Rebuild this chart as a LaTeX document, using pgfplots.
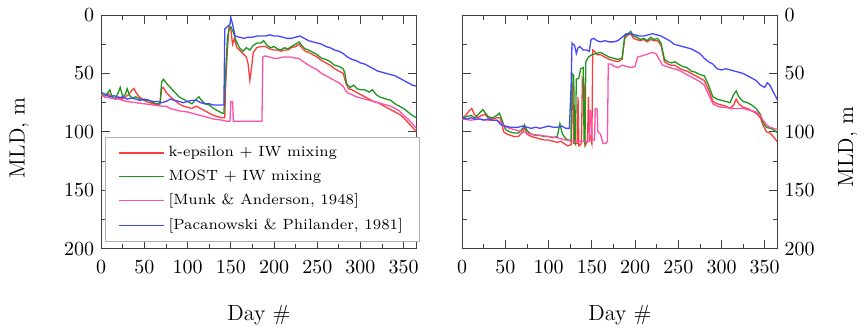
\documentclass[border=0pt]{standalone}
\usepackage{pgfplots}
\pgfplotsset{compat=1.18}
\definecolor{kred}{RGB}{255,60,60}
\definecolor{kgreen}{RGB}{30,150,30}
\definecolor{kpink}{RGB}{255,80,170}
\definecolor{kblue}{RGB}{70,70,255}
\pgfplotsset{
  mlda/.style={
    scale only axis, width=157.9pt, height=117pt,
    xmin=0, xmax=365, ymin=0, ymax=200, y dir=reverse,
    xtick={0,50,...,350}, ytick={0,50,...,200},
    minor x tick num=1, minor y tick num=1,
    tick align=inside, major tick length=4.5pt, minor tick length=2.5pt,
    axis line style={black!75}, every tick/.style={black!75},
    tick label style={font=\fontsize{10}{12}\selectfont},
    xticklabel style={yshift=-2.5pt},
    label style={font=\fontsize{11}{13}\selectfont},
    xlabel={Day \#},
    xlabel style={at={(axis description cs:0.5,-0.282)}, anchor=center},
    ylabel={MLD, m},
    every axis plot/.append style={line width=0.65pt},
  },
  legend image code/.code={\draw[#1] (0pt,0pt) -- (22.5pt,0pt);},
}
\begin{document}
\begin{tikzpicture}
\path (-50.65pt,-41.5pt) rectangle (381.35pt,124.5pt);
\begin{axis}[mlda, at={(0,0)}, anchor=south west,
  ylabel style={at={(axis description cs:-0.26,0.475)}, anchor=center},
  legend style={at={(axis description cs:0.0117,0.4786)}, anchor=north west,
    font=\fontsize{7.4}{9}\selectfont, draw=gray!60, inner xsep=6.5pt, inner ysep=2.5pt,
    row sep=1.2pt},
  legend cell align=left]
\addplot[kred] coordinates {(0,68)(4,70)(8,67)(12,70)(16,72)(20,70)(24,72)(28,70)(32,68)(36,64)(38,63)(40,66)(44,70)(48,72)(52,74)(56,75)(60,76)(65,77)(68,76)(70,63)(72,62)(75,66)(80,70)(85,73)(90,76)(95,78)(100,79)(105,80)(110,78)(115,80)(120,82)(125,84)(130,86)(135,87)(140,88)(143,88)(144,60)(146,30)(148,10)(150,12)(152,25)(154,20)(157,28)(160,30)(164,33)(168,36)(170,42)(172,56)(174,45)(176,32)(180,28)(185,27)(190,27)(195,29)(200,30)(204,30)(208,31)(212,30)(216,30)(220,28)(225,27)(229,25)(232,28)(236,31)(240,32)(245,34)(250,36)(255,39)(260,41)(265,43)(270,46)(275,48)(280,50)(283,58)(286,63)(290,64)(295,66)(300,68)(305,70)(310,72)(315,74)(320,75)(325,77)(330,79)(335,81)(340,83)(345,85)(350,88)(355,92)(360,96)(365,100)};
\addlegendentry{k-epsilon + IW mixing}
\addplot[kgreen] coordinates {(0,67)(4,70)(8,66)(10,64)(12,69)(16,72)(20,66)(22,62)(25,70)(28,68)(30,63)(33,69)(36,71)(40,70)(45,72)(50,73)(55,73)(60,75)(65,76)(68,76)(70,57)(72,55)(75,58)(80,62)(85,66)(90,70)(95,72)(100,74)(105,76)(110,72)(113,70)(116,73)(120,76)(125,77)(130,80)(135,82)(140,84)(142,84)(144,50)(146,20)(148,12)(150,10)(153,15)(156,22)(160,28)(164,31)(168,28)(172,30)(176,26)(180,24)(185,24)(188,22)(192,26)(196,28)(200,27)(204,29)(208,30)(212,28)(216,29)(220,27)(225,25)(229,23)(232,26)(236,29)(240,30)(245,32)(250,34)(255,37)(260,38)(265,40)(270,43)(275,44)(280,46)(282,50)(284,59)(288,62)(292,60)(296,63)(300,64)(305,64)(310,66)(314,64)(318,68)(322,70)(326,71)(330,72)(335,73)(340,76)(345,78)(350,80)(355,83)(360,86)(365,88)};
\addlegendentry{MOST + IW mixing}
\addplot[kpink] coordinates {(0,69)(10,71)(20,72)(30,74)(40,75)(50,76)(60,77)(70,78)(75,78)(80,80)(90,82)(100,83)(110,85)(120,87)(130,89)(140,90)(145,91)(149,91)(150,74)(152,74)(153,91)(160,91)(170,91)(180,91)(186,91)(187,36)(190,35)(195,36)(200,37)(205,37)(210,36)(215,36)(220,36)(225,37)(228,37)(232,39)(236,41)(240,43)(245,45)(250,47)(255,50)(260,52)(265,54)(270,56)(275,58)(280,61)(283,65)(286,67)(290,68)(295,70)(300,71)(305,72)(310,73)(315,74)(320,75)(325,76)(330,77)(335,78)(340,80)(345,82)(350,86)(355,89)(360,93)(365,97)};
\addlegendentry{[Munk \& Anderson, 1948]}
\addplot[kblue] coordinates {(0,66)(5,68)(10,70)(15,69)(20,71)(25,70)(30,72)(35,71)(40,72)(45,73)(50,72)(55,73)(60,74)(65,74)(70,75)(75,74)(80,72)(85,73)(90,74)(95,75)(100,74)(105,73)(110,73)(115,75)(120,76)(125,76)(130,77)(135,77)(140,77)(142,77)(143,12)(146,10)(149,8)(150,2)(152,8)(155,18)(160,19)(165,20)(170,19)(175,19)(180,18)(185,18)(190,18)(195,17)(200,18)(205,18)(210,19)(215,20)(220,20)(225,19)(230,18)(235,20)(240,22)(245,23)(250,24)(255,25)(260,27)(265,28)(270,30)(275,31)(280,33)(285,36)(290,38)(295,39)(300,41)(305,42)(310,44)(315,46)(320,48)(325,49)(330,50)(335,51)(340,52)(345,54)(350,56)(355,58)(360,60)(365,61)};
\addlegendentry{[Pacanowski \& Philander, 1981]}
\end{axis}
\begin{axis}[mlda, at={(180.7pt,0)}, anchor=south west,
  yticklabel pos=right,
  ylabel style={at={(axis description cs:1.222,0.436)}, anchor=center}]
\addplot[kred] coordinates {(0,88)(4,86)(8,82)(11,80)(14,85)(18,88)(22,86)(26,85)(30,88)(35,89)(40,88)(44,88)(48,100)(52,102)(56,103)(60,104)(65,104)(70,100)(72,96)(75,102)(80,104)(85,105)(90,106)(95,107)(100,107)(105,108)(110,109)(114,108)(118,110)(122,112)(126,111)(127,58)(128,62)(129,110)(133,110)(134,70)(135,112)(138,110)(139,55)(141,60)(142,112)(145,108)(146,70)(147,100)(150,110)(151,30)(153,31)(156,34)(160,34)(165,36)(170,38)(175,39)(180,40)(185,38)(188,20)(192,17)(195,16)(198,20)(202,21)(206,22)(210,21)(214,23)(218,21)(222,22)(226,22)(230,26)(234,40)(238,42)(242,43)(246,43)(250,45)(255,47)(260,48)(265,50)(270,52)(275,54)(280,56)(285,64)(290,74)(295,76)(300,77)(305,78)(310,80)(314,77)(317,72)(320,76)(325,79)(330,80)(335,82)(340,84)(345,88)(348,94)(352,100)(356,101)(360,104)(365,109)};
\addplot[kgreen] coordinates {(0,88)(5,87)(10,86)(15,88)(20,84)(24,81)(27,84)(30,87)(35,88)(40,86)(43,84)(46,90)(50,98)(55,100)(60,101)(65,101)(70,97)(72,94)(75,99)(80,102)(85,103)(90,103)(95,104)(100,104)(105,105)(110,104)(113,93)(116,102)(120,106)(126,108)(127,50)(129,52)(130,108)(131,110)(132,55)(135,54)(137,46)(140,45)(141,108)(142,110)(143,40)(146,36)(148,35)(150,34)(155,33)(160,32)(165,34)(170,36)(175,37)(180,38)(185,37)(188,18)(192,16)(195,14)(198,18)(202,19)(206,21)(210,20)(214,22)(218,19)(222,21)(226,20)(230,24)(234,38)(238,40)(242,41)(246,40)(250,42)(255,44)(260,45)(265,48)(270,49)(275,51)(280,52)(285,60)(290,70)(295,72)(300,73)(305,74)(310,75)(314,68)(317,65)(320,70)(325,74)(330,75)(335,77)(340,80)(345,85)(348,92)(352,96)(356,97)(360,98)(365,101)};
\addplot[kpink] coordinates {(0,89)(10,90)(20,89)(30,90)(40,90)(45,92)(50,96)(60,98)(70,100)(80,102)(90,103)(100,104)(110,105)(120,107)(130,108)(140,108)(147,108)(148,82)(149,82)(150,106)(153,107)(154,80)(156,80)(157,100)(160,102)(163,110)(166,110)(168,108)(169,42)(172,42)(176,44)(180,45)(185,43)(190,44)(195,45)(200,44)(203,36)(208,35)(212,34)(216,33)(220,32)(224,33)(228,38)(232,43)(236,44)(240,45)(245,46)(250,47)(255,49)(260,51)(265,53)(270,55)(275,57)(280,60)(285,68)(290,76)(295,78)(300,79)(305,79)(310,80)(315,80)(320,80)(325,80)(330,81)(335,82)(340,83)(345,86)(348,90)(352,94)(356,96)(360,97)(365,98)};
\addplot[kblue] coordinates {(0,88)(5,89)(10,88)(15,89)(20,89)(25,90)(30,89)(35,90)(40,90)(45,94)(50,95)(55,96)(60,96)(65,96)(70,95)(75,96)(80,97)(85,96)(90,97)(95,96)(100,95)(105,96)(110,96)(115,95)(120,97)(124,97)(126,60)(127,24)(130,26)(132,33)(134,28)(136,27)(140,30)(144,30)(147,31)(149,21)(152,20)(156,22)(160,23)(165,22)(170,23)(175,23)(180,22)(185,19)(190,16)(195,16)(200,17)(205,18)(210,18)(215,17)(220,16)(225,17)(230,18)(235,20)(240,22)(245,25)(250,26)(255,27)(260,28)(265,29)(270,31)(275,33)(280,37)(285,40)(290,42)(295,46)(300,47)(305,46)(310,47)(315,48)(320,49)(325,50)(330,52)(335,54)(340,56)(345,60)(350,62)(353,58)(356,60)(360,66)(365,73)};
\end{axis}
\end{tikzpicture}
\end{document}
